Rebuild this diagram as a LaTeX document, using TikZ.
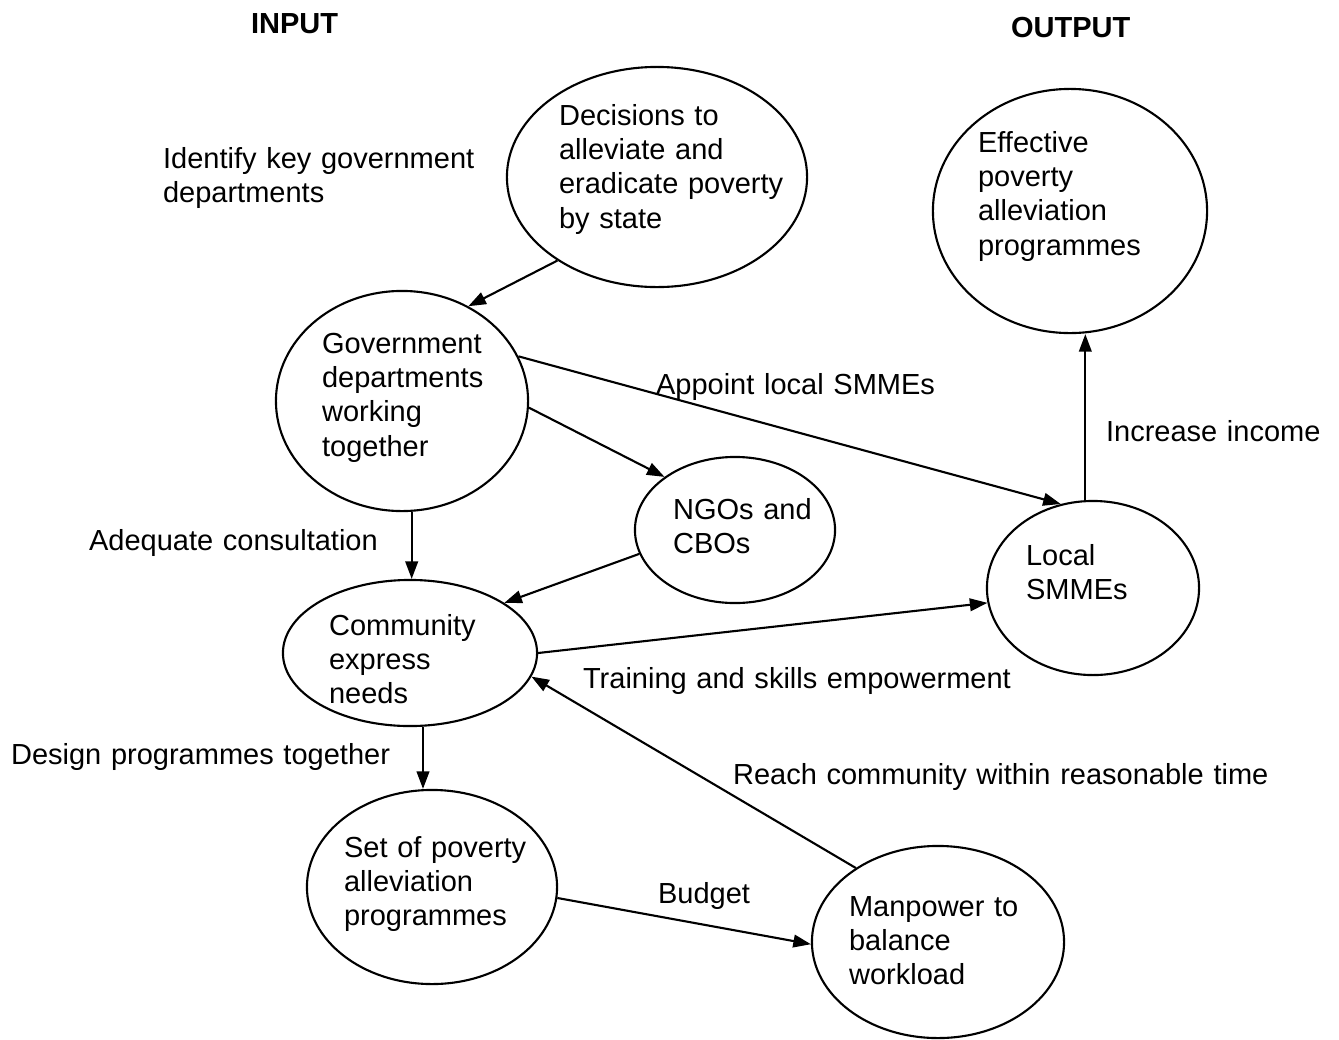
\documentclass[tikz,border=0pt]{standalone}
\usepackage{fontspec}
\setmainfont{Liberation Sans}
\usepackage{tikz}
\usetikzlibrary{arrows.meta}
\usetikzlibrary{shapes.geometric}
\newcommand{\lab}{\fontsize{8.25pt}{9.8pt}\selectfont}
\tikzset{->/.style = {-{Triangle[length = 5pt, width = 3.6pt]}}}
\tikzset{bubble/.style 2 args = {draw, ellipse, inner sep = 0, minimum width = #1, minimum height = #2}}
\tikzset{txt/.style = {anchor = base west, align = left, text width = 6cm, inner sep = 0, font = \lab}}

\begin{document}
\begin{tikzpicture}[x = 0.01cm, y = -0.01cm, line width = 0.6pt]
    \useasboundingbox (0, 0) rectangle (1339, 1039);
    \node [txt, font = \lab\bfseries] (input) at (250, 33) {INPUT};
    \node [txt, font = \lab\bfseries] (output) at (1010, 37) {OUTPUT};

    \node [bubble = {3cm}{2.2cm}] (decide) at (657, 177) {};
    \node [bubble = {2.74cm}{2.44cm}] (effect) at (1070, 211) {};
    \node [bubble = {2.52cm}{2.2cm}] (gov) at (402, 401) {};
    \node [bubble = {2cm}{1.46cm}] (ngo) at (735, 530) {};
    \node [bubble = {2.12cm}{1.74cm}] (local) at (1093, 588) {};
    \node [bubble = {2.54cm}{1.46cm}] (com) at (410, 653) {};
    \node [bubble = {2.5cm}{1.94cm}] (set) at (432, 887) {};
    \node [bubble = {2.52cm}{1.92cm}] (man) at (938, 942) {};

    \node [txt] (decidetxt) at (558, 125) {Decisions to\\ alleviate and\\ eradicate poverty\\ by state};
    \node [txt] (effecttxt) at (977, 152) {Effective\\ poverty\\ alleviation\\ programmes};
    \node [txt] (govtxt) at (321, 353) {Government\\ departments\\ working\\ together};
    \node [txt] (ngotxt) at (672, 519) {NGOs and\\ CBOs};
    \node [txt] (localtxt) at (1025, 565) {Local\\ SMMEs};
    \node [txt] (comtxt) at (328, 635) {Community\\ express\\ needs};
    \node [txt] (settxt) at (343, 857) {Set of poverty\\ alleviation\\ programmes};
    \node [txt] (mantxt) at (848, 916) {Manpower to\\ balance\\ workload};

    \draw [->] (decide.220) -- (gov.55);
    \draw [->] (gov.21) -- (local.111);
    \draw [->] (gov.-3) -- (ngo.143);
    \draw [->] (gov.-85) -- (gov.-85 |- com.north);
    \draw [->] (ngo.194) -- (com.28);
    \draw [->] (com.east) -- (local.188);
    \draw [->] (local.95) -- (local.95 |- effect.south);
    \draw [->] (man.138) -- (com.-11);
    \draw [->] (com.-80) -- (com.-80 |- set.north);
    \draw [->] (set.-5) -- (man.181);

    \node [txt] (identify) at (162, 168) {Identify key government\\ departments};
    \node [txt] (appoint) at (655, 394) {Appoint local SMMEs};
    \node [txt] (income) at (1105, 441) {Increase income};
    \node [txt] (consult) at (88, 550) {Adequate consultation};
    \node [txt] (training) at (582, 688) {Training and skills empowerment};
    \node [txt] (design) at (10, 764) {Design programmes together};
    \node [txt] (reach) at (732, 784) {Reach community within reasonable time};
    \node [txt] (budget) at (657, 903) {Budget};
\end{tikzpicture}
\end{document}
